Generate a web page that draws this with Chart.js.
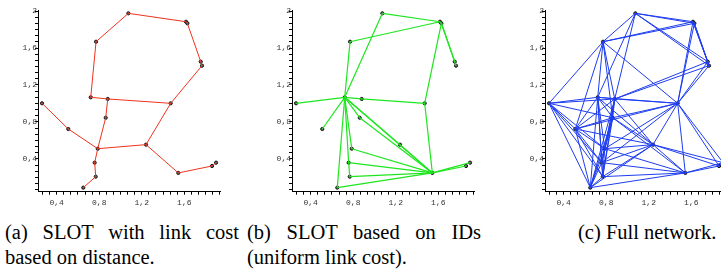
<!DOCTYPE html>
<html>
<head>
<meta charset="utf-8">
<script src="https://cdn.jsdelivr.net/npm/chart.js@4.4.1/dist/chart.umd.min.js"></script>
<style>
  html, body { margin:0; padding:0; background:#fff; width:721px; height:275px; overflow:hidden; }
  body { position:relative; }
  canvas { position:absolute; top:0; }
  .cap { position:absolute; font-family:"Liberation Serif", serif; font-size:20.5px; color:#000; white-space:nowrap; line-height:22px; }
  .just { text-align:justify; text-align-last:justify; }
</style>
</head>
<body>
<canvas id="chart-a" width="240" height="215" style="left:0px"></canvas>
<canvas id="chart-b" width="240" height="215" style="left:253.5px"></canvas>
<canvas id="chart-c" width="240" height="215" style="left:507px"></canvas>

<div class="cap just" style="left:5px;top:221px;width:234px">(a) SLOT with link cost</div>
<div class="cap" style="left:5px;top:246px">based on distance.</div>
<div class="cap just" style="left:247px;top:221px;width:234px">(b) SLOT based on IDs</div>
<div class="cap" style="left:247px;top:246px">(uniform link cost).</div>
<div class="cap" style="left:578px;top:221px">(c) Full network.</div>

<script>
// node positions (same deployment in all three panels)
const nodeX = [1.074, 1.616, 1.629, 0.770, 1.755, 1.767, 0.720, 0.880, 1.472, 0.262,
               0.861, 0.509, 0.786, 1.240, 0.757, 0.767, 1.544, 1.861, 1.899, 0.650];
const nodeY = [1.975, 1.884, 1.867, 1.668, 1.452, 1.409, 1.067, 1.049, 1.002, 1.002,
               0.846, 0.724, 0.511, 0.555, 0.360, 0.209, 0.249, 0.324, 0.360, 0.090];

// links as pairs of node indices
const edgesA = [[0,1],[1,2],[2,4],[4,5],[5,8],[0,3],[3,6],[6,7],[7,8],[8,13],[7,10],
                [10,12],[9,11],[11,12],[12,13],[12,14],[14,15],[15,19],[13,16],[16,17],[17,18]];

const edgesB = [[6,0],[6,3],[3,1],[0,1],[1,2],[2,4],[2,5],[2,8],[8,16],[6,7],[7,8],
                [6,9],[6,11],[6,10],[10,16],[6,13],[13,16],[6,16],[6,12],[12,16],
                [6,19],[19,16],[6,14],[14,16],[15,16],[14,15],[16,17],[16,18]];

const edgesC = [[0,1],[0,2],[0,3],[0,4],[0,5],[0,6],[0,7],
                [1,2],[1,3],[1,4],[1,5],[1,8],
                [2,3],[2,4],[2,5],[2,8],
                [3,6],[3,7],[3,8],[3,9],[3,10],[3,11],
                [4,5],[4,7],[4,8],
                [5,7],[5,8],
                [6,7],[6,8],[6,9],[6,10],[6,11],[6,12],[6,13],[6,14],[6,15],[6,19],
                [7,8],[7,9],[7,10],[7,11],[7,12],[7,13],[7,14],[7,15],[7,19],
                [8,10],[8,11],[8,12],[8,13],[8,14],[8,16],[8,17],[8,18],
                [9,10],[9,11],[9,12],[9,14],[9,15],[9,19],
                [10,11],[10,12],[10,13],[10,14],[10,15],[10,16],[10,19],
                [11,12],[11,13],[11,14],[11,15],[11,19],
                [12,13],[12,14],[12,15],[12,16],[12,19],
                [13,14],[13,15],[13,16],[13,17],[13,18],[13,19],
                [14,15],[14,16],[14,19],
                [15,16],[15,19],
                [16,17],[16,18],[16,19],
                [17,18]];

// axes
const xRange = [0.224, 1.936];
const yRange = [0.046, 2.011];
const xMajor = [0.4, 0.8, 1.2, 1.6];
const xMajorLabels = ['0,4', '0,8', '1,2', '1,6'];
const yMajor = [0.4, 0.8, 1.2, 1.6, 2];
const yMajorLabels = ['0,4', '0,8', '1,2', '1,6', '2'];
const minorStep = 1 / 15;

function minorTicks(min, max) {
  const out = [];
  for (let k = 1; k * minorStep <= max + 1e-9; k++) {
    const v = k * minorStep;
    if (v >= min) out.push({ value: v });
  }
  return out;
}

function labelFor(majors, labels) {
  return v => {
    const i = majors.findIndex(m => Math.abs(m - v) < 1e-6);
    return i >= 0 ? labels[i] : '';
  };
}

const tickFont = { family: '"Liberation Mono", monospace', size: 8 };

function buildNetwork(id, edges, color, width) {
  const datasets = edges.map(([a, b]) => ({
    data: [{ x: nodeX[a], y: nodeY[a] }, { x: nodeX[b], y: nodeY[b] }],
    showLine: true,
    borderColor: color,
    borderWidth: width,
    pointRadius: 0
  }));
  datasets.push({
    data: nodeX.map((x, i) => ({ x, y: nodeY[i] })),
    pointRadius: 1.6,
    pointBorderWidth: 1,
    pointBorderColor: '#111',
    pointBackgroundColor: '#666'
  });

  new Chart(document.getElementById(id), {
    type: 'scatter',
    data: { datasets },
    options: {
      responsive: false,
      animation: false,
      events: [],
      layout: { padding: { left: 0, top: 10, right: 20, bottom: 0 } },
      plugins: { legend: { display: false }, tooltip: { enabled: false } },
      scales: {
        x: {
          min: xRange[0], max: xRange[1],
          afterBuildTicks: s => { s.ticks = minorTicks(xRange[0], xRange[1]); },
          afterFit: s => { s.height = 23.3; },
          grid: { drawOnChartArea: false, drawTicks: true, tickLength: 3, color: '#000' },
          border: { display: true, color: '#000', width: 1 },
          ticks: { autoSkip: false, maxRotation: 0, padding: 3, color: '#333', font: tickFont,
                   callback: labelFor(xMajor, xMajorLabels) }
        },
        y: {
          min: yRange[0], max: yRange[1],
          afterBuildTicks: s => { s.ticks = minorTicks(yRange[0], yRange[1]); },
          afterFit: s => { s.width = 38; },
          grid: { drawOnChartArea: false, drawTicks: true, tickLength: 3, color: '#000' },
          border: { display: true, color: '#000', width: 1 },
          ticks: { autoSkip: false, padding: -2, color: '#333', font: tickFont,
                   callback: labelFor(yMajor, yMajorLabels) }
        }
      }
    }
  });
}

buildNetwork('chart-a', edgesA, 'rgb(240,50,30)', 1);
buildNetwork('chart-b', edgesB, 'rgb(30,230,30)', 1.2);
buildNetwork('chart-c', edgesC, 'rgb(30,60,240)', 1);
</script>
</body>
</html>
